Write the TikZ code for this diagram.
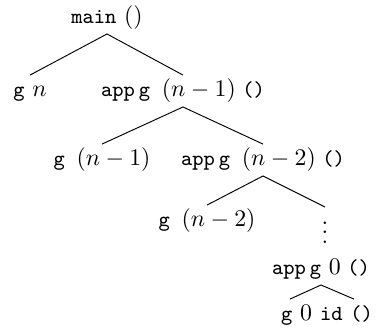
\documentclass[tikz,border=0pt]{standalone}
\usepackage{amsmath}
\usetikzlibrary{calc}
\newcommand{\cour}{\small\ttfamily}

\begin{document}
\begin{tikzpicture}[x=0.42pt,y=-0.42pt,
    lbl/.style={inner sep=1.5pt,text height=7.5pt,text depth=2.5pt,anchor=base}]
  \useasboundingbox (0,0) rectangle (383,328);
  % call tree
  \node[lbl] (main) at (107,24) {{\cour main} $()$};
  \node[lbl] (gn) at (30,97) {{\cour g} $n$};
  \node[lbl] (app1) at (183,97) {{\cour app}\,{\cour g}\, $(n-1)$\;{\cour()}};
  \node[lbl] (g1) at (102,166) {{\cour g}\, $(n-1)$};
  \node[lbl] (app2) at (263,166) {{\cour app}\,{\cour g}\, $(n-2)$\;{\cour()}};
  \node[lbl] (g2) at (207,227) {{\cour g}\, $(n-2)$};
  \node[inner sep=0pt,anchor=north] (dots) at (325,207) {$\vdots$};
  \node[lbl] (app3) at (321,275) {{\cour app}\,{\cour g} $0$\;{\cour()}};
  \node[lbl] (last) at (327,321) {{\cour g} $0$ {\cour id} {\cour()}};
  \draw (gn.north) -- (main.south) -- (app1.north);
  \draw (g1.north) -- (app1.south) -- (app2.north);
  \draw (g2.north) -- (app2.south) -- (dots.north);
  \draw ($(last.north)+(-37,0)$) -- (app3.south) -- ($(last.north)+(27,0)$);
\end{tikzpicture}
\end{document}
